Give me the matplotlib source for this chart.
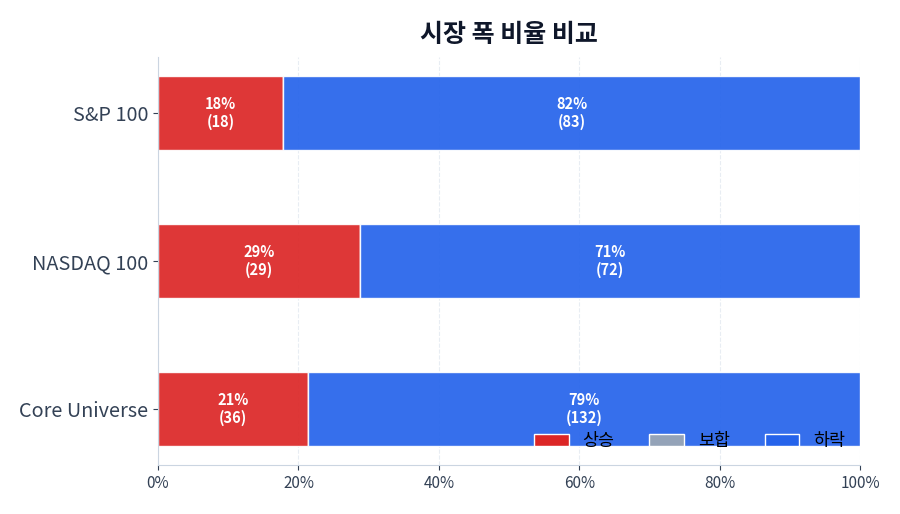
import matplotlib
matplotlib.use('Agg')
import matplotlib.pyplot as plt
from matplotlib.ticker import PercentFormatter

plt.rcParams['font.family'] = ['Noto Sans CJK KR', 'DejaVu Sans']

markets = ['Core Universe', 'NASDAQ 100', 'S&P 100']
up = [36, 29, 18]
flat = [0, 0, 0]
down = [132, 72, 83]

colors = {'상승': '#dc2626', '보합': '#94a3b8', '하락': '#2563eb'}
text_color = '#334155'

fig, ax = plt.subplots(figsize=(9, 5.14), dpi=100)
fig.subplots_adjust(left=0.1756, right=0.9556, bottom=0.0953, top=0.889)

totals = [u + f + d for u, f, d in zip(up, flat, down)]
left = [0.0] * len(markets)
for name, counts in [('상승', up), ('보합', flat), ('하락', down)]:
    frac = [c / t for c, t in zip(counts, totals)]
    bars = ax.barh(markets, frac, height=0.5, left=left, color=colors[name],
                   alpha=0.92, edgecolor='white', linewidth=1, label=name)
    for bar, f, c in zip(bars, frac, counts):
        if f > 0.05:
            ax.text(bar.get_x() + bar.get_width() / 2, bar.get_y() + bar.get_height() / 2,
                    f'{f * 100:.0f}%\n({c})', ha='center', va='center',
                    color='white', fontsize=10.5, fontweight='bold', linespacing=1.15)
    left = [l + f for l, f in zip(left, frac)]

ax.set_xlim(0, 1)
ax.xaxis.set_major_formatter(PercentFormatter(1.0, decimals=0))
ax.set_xticks([0, 0.2, 0.4, 0.6, 0.8, 1.0])
ax.grid(axis='x', linestyle='--', color='#e8edf3', linewidth=0.8)
ax.set_axisbelow(True)
for s in ['top', 'right']:
    ax.spines[s].set_visible(False)
for s in ['left', 'bottom']:
    ax.spines[s].set_color('#cbd5e1')
ax.tick_params(axis='y', labelsize=14.3, colors=text_color)
ax.tick_params(axis='x', labelsize=11, colors=text_color)
ax.tick_params(axis='both', color='#334155')

ax.set_title('시장 폭 비율 비교', fontsize=18, fontweight='bold', color='#0f172a', pad=11)

leg = ax.legend(loc='lower right', ncol=3, frameon=False, fontsize=12.5,
                borderaxespad=0.45)
for h in leg.legend_handles:
    h.set_alpha(1)

fig.savefig('out.png', dpi=100)
